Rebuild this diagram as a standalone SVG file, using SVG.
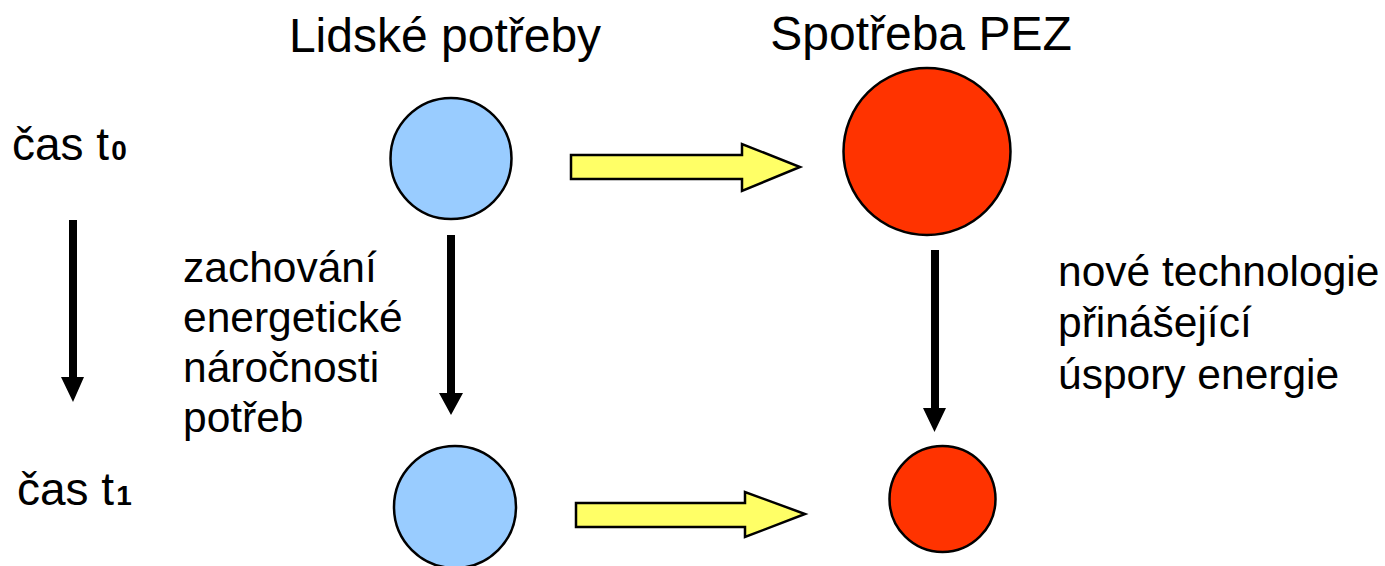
<svg xmlns="http://www.w3.org/2000/svg" width="1385" height="566" viewBox="0 0 1385 566">
<style>
text{font-family:"Liberation Sans",Arial,sans-serif;fill:#000}
.h{font-size:48px}
.t{font-size:46px}
.sub{font-size:28px;font-weight:bold}
.l{font-size:42.5px}
.blue{fill:#99CCFF;stroke:#000;stroke-width:2.5}
.red{fill:#FF3300;stroke:#000;stroke-width:2.5}
.ya{fill:#FFFF66;stroke:#000;stroke-width:2.5;stroke-linejoin:miter}
.ba{fill:#000}
</style>
<rect width="1385" height="566" fill="#fff"/>
<g id="title-needs"><text class="h" x="445" y="52" text-anchor="middle">Lidské potřeby</text></g>
<g id="title-pez"><text class="h" x="921" y="50" text-anchor="middle">Spotřeba PEZ</text></g>
<g id="time-t0"><text class="t" x="12" y="160">čas t<tspan class="sub" dx="2">0</tspan></text></g>
<g id="time-t1"><text class="t" x="17" y="505">čas t<tspan class="sub" dx="2">1</tspan></text></g>
<g id="needs-t0"><circle class="blue" cx="451" cy="158.5" r="60.5"/></g>
<g id="pez-t0"><circle class="red" cx="927" cy="151.5" r="83.5"/></g>
<g id="needs-t1"><circle class="blue" cx="455" cy="507" r="61"/></g>
<g id="pez-t1"><circle class="red" cx="942.5" cy="499" r="53"/></g>
<g id="label-left">
<text class="l" x="183" y="282">zachování</text>
<text class="l" x="183" y="332">energetické</text>
<text class="l" x="183" y="382">náročnosti</text>
<text class="l" x="183" y="432">potřeb</text>
</g>
<g id="label-right">
<text class="l" x="1058" y="286">nové technologie</text>
<text class="l" x="1058" y="337">přinášející</text>
<text class="l" x="1058" y="389">úspory energie</text>
</g>
<g id="connectors">
<polygon class="ya" points="571,155 742,155 742,144 800,167 742,191 742,179 571,179"/>
<polygon class="ya" points="576,503 745,503 745,492 805,514 745,537 745,527 576,527"/>
<polygon class="ba" points="69,220 77,220 77,377 84,377 73,402 61,377 69,377"/>
<polygon class="ba" points="447,235 455,235 455,393 463,393 451,415 439,393 447,393"/>
<polygon class="ba" points="931,250 939,250 939,408 946,408 934.5,432 923,408 931,408"/>
</g>
</svg>
